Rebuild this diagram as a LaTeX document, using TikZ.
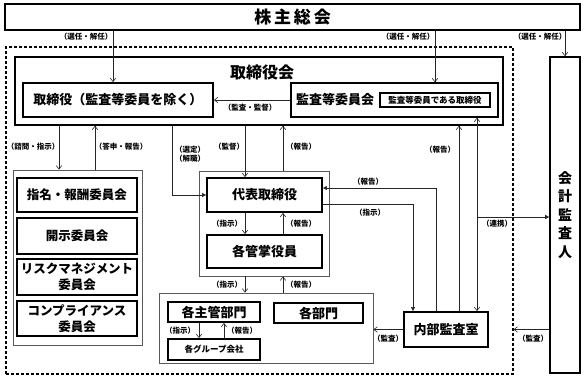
\documentclass[tikz,border=0pt]{standalone}
\usepackage{fontspec}
\setmainfont{Noto Sans CJK JP}
\usetikzlibrary{arrows.meta,calc}
\begin{document}
\begin{tikzpicture}[x=1pt,y=-1pt,
  outer/.style={draw, line width=1.4pt, inner sep=0pt, rectangle},
  tbox/.style={draw, line width=1.8pt, inner sep=0pt, rectangle, font=\bfseries\fontsize{13}{15}\selectfont, align=center},
  gbox/.style={draw=black!65, line width=0.8pt, inner sep=0pt, rectangle},
  lbl/.style={font=\bfseries\fontsize{7.5}{9}\selectfont, inner sep=0pt, align=center},
  con/.style={line width=0.6pt, draw=black!85},
  oa/.style={con, -{Straight Barb[length=3.5pt,width=5.5pt]}},
  fa/.style={con, -{Triangle[length=4pt,width=4pt]}},
  boa/.style={con, {Straight Barb[length=3.5pt,width=5.5pt]}-{Straight Barb[length=3.5pt,width=5.5pt]}}
]
\useasboundingbox (0,0) rectangle (587,380);
% main boxes
\node[outer, minimum width=575, minimum height=26, font=\bfseries\fontsize{17}{19}\selectfont] (kabu) at (292.5,17) {株\,主\,総\,会};
\node[draw, dash pattern=on 3pt off 2pt, line width=1.1pt, minimum width=507, minimum height=327, inner sep=0pt] (corp) at (259.5,210.5) {};
\node[outer, minimum width=488, minimum height=68] (tbk) at (259,91) {};
\node[inner sep=0pt, font=\bfseries\fontsize{16}{18}\selectfont] (tbktitle) at (262,72) {取締役会};
\node[tbox, minimum width=190, minimum height=34] (tori) at (118,100) {取締役（監査等委員を除く）};
\node[tbox, line width=1.4pt, minimum width=207, minimum height=34] (kansa) at (394.5,100) {};
\node[inner sep=0pt, font=\bfseries\fontsize{13}{15}\selectfont] (kansatxt) at (335,100) {監査等委員会};
\node[draw, line width=1.2pt, minimum width=110, minimum height=14, inner sep=0pt, font=\bfseries\fontsize{8.5}{10}\selectfont] (kansatori) at (435,100) {監査等委員である取締役};
\node[outer, line width=1.6pt, minimum width=30, minimum height=316, align=center, font=\bfseries\fontsize{14}{18.5}\selectfont] (kaikei) at (565,215) {会\\計\\監\\査\\人};
% committees
\node[gbox, minimum width=129, minimum height=175] (cg) at (77.5,257.5) {};
\node[tbox, font=\bfseries\fontsize{12.5}{16.5}\selectfont, minimum width=120, minimum height=34] (c1) at (77,195) {指名・報酬委員会};
\node[tbox, font=\bfseries\fontsize{12.5}{16.5}\selectfont, minimum width=120, minimum height=36] (c2) at (77,236) {開示委員会};
\node[tbox, font=\bfseries\fontsize{12.5}{16.5}\selectfont, minimum width=120, minimum height=36] (c3) at (77,277) {リスクマネジメント\\委員会};
\node[tbox, font=\bfseries\fontsize{12.5}{16.5}\selectfont, minimum width=120, minimum height=35] (c4) at (77,318.5) {コンプライアンス\\委員会};
% executives
\node[gbox, minimum width=130, minimum height=105] (dg) at (264,223.5) {};
\node[tbox, minimum width=115, minimum height=34] (dai) at (264.5,195) {代表取締役};
\node[tbox, minimum width=115, minimum height=33] (kan) at (264.5,251.5) {各管掌役員};
% departments
\node[gbox, minimum width=214, minimum height=70] (lg) at (266,328) {};
\node[tbox, minimum width=92, minimum height=20] (shu) at (214,312) {各主管部門};
\node[tbox, minimum width=89, minimum height=20] (bu) at (318.5,313) {各部門};
\node[tbox, font=\bfseries\fontsize{8.5}{10}\selectfont, minimum width=92, minimum height=21] (grp) at (214,349.5) {各グループ会社};
\node[tbox, minimum width=84, minimum height=35] (naibu) at (446,329.5) {内部監査室};
% columns
\coordinate (x113) at (113,0);
\coordinate (x435) at (435,0);
\coordinate (x59) at (59,0);
\coordinate (x95) at (95,0);
\coordinate (x172) at (172,0);
\coordinate (x245) at (245,0);
\coordinate (x283) at (283,0);
\coordinate (x199) at (199,0);
\coordinate (x224) at (224,0);
\coordinate (x459) at (459,0);
\coordinate (x477) at (477,0);
\coordinate (p413) at (413,204);
\coordinate (q436) at (436,188);
\coordinate (r) at (477,217);
% connectors
\draw[oa] (kabu.south -| x113) -- (tori.north -| x113);
\draw[oa] (kabu.south -| x435) -- (kansa.north -| x435);
\draw[oa] (kabu.south -| kaikei.north) -- (kaikei.north);
\draw[oa] (kansa.west) -- (tori.east);
\draw[oa] (tbk.south -| x59) -- (cg.north -| x59);
\draw[oa] (cg.north -| x95) -- (tbk.south -| x95);
\draw[fa] (tbk.south -| x172) |- (dai.west);
\draw[oa] (tbk.south -| x245) -- (dai.north -| x245);
\draw[oa] (dg.north -| x283) -- (tbk.south -| x283);
\draw[oa] (dai.south -| x245) -- (kan.north -| x245);
\draw[oa] (kan.north -| x283) -- (dai.south -| x283);
\draw[oa] (dg.south -| x245) -- (lg.north -| x245);
\draw[oa] (lg.north -| x283) -- (dg.south -| x283);
\draw[oa] (shu.south -| x199) -- (grp.north -| x199);
\draw[oa] (grp.north -| x224) -- (shu.south -| x224);
\draw[oa] (naibu.west) -- (lg.east |- naibu.west);
\draw[oa] (kaikei.west |- naibu.west) -- (corp.east |- naibu.west);
\draw[fa] (dai.east |- p413) -| (naibu.north -| p413);
\draw[fa] (naibu.north -| q436) |- (dai.east |- q436);
\draw[oa] (naibu.north -| x459) -- (tbk.south -| x459);
\draw[boa] (kansa.south -| x477) -- (naibu.north -| x477);
\draw[fa] (r) -- (kaikei.west |- r);
% labels
\node[lbl] (l1) at (86,37) {（選任・解任）};
\node[lbl] (l2) at (408,37) {（選任・解任）};
\node[lbl] (l3) at (540,37) {（選任・解任）};
\node[lbl] (l4) at (250,108) {（監査・監督）};
\node[lbl] (l5) at (33,147) {（諮問・指示）};
\node[lbl] (l6) at (121,147) {（答申・報告）};
\node[lbl] (l7) at (190,154.5) {（選定）\\（解職）};
\node[lbl] (l8) at (229,147) {（監督）};
\node[lbl] (l9) at (301,147) {（報告）};
\node[lbl] (l10) at (227,224) {（指示）};
\node[lbl] (l11) at (301,224) {（報告）};
\node[lbl] (l12) at (227,285) {（指示）};
\node[lbl] (l13) at (301,285) {（報告）};
\node[lbl] (l14) at (180,331) {（指示）};
\node[lbl] (l15) at (242,331) {（報告）};
\node[lbl] (l16) at (388,339) {（監査）};
\node[lbl] (l17) at (533,339) {（監査）};
\node[lbl] (l18) at (368,182) {（報告）};
\node[lbl] (l19) at (370,213) {（指示）};
\node[lbl] (l20) at (440,150) {（報告）};
\node[lbl] (l21) at (497,224) {（連携）};
\end{tikzpicture}
\end{document}
